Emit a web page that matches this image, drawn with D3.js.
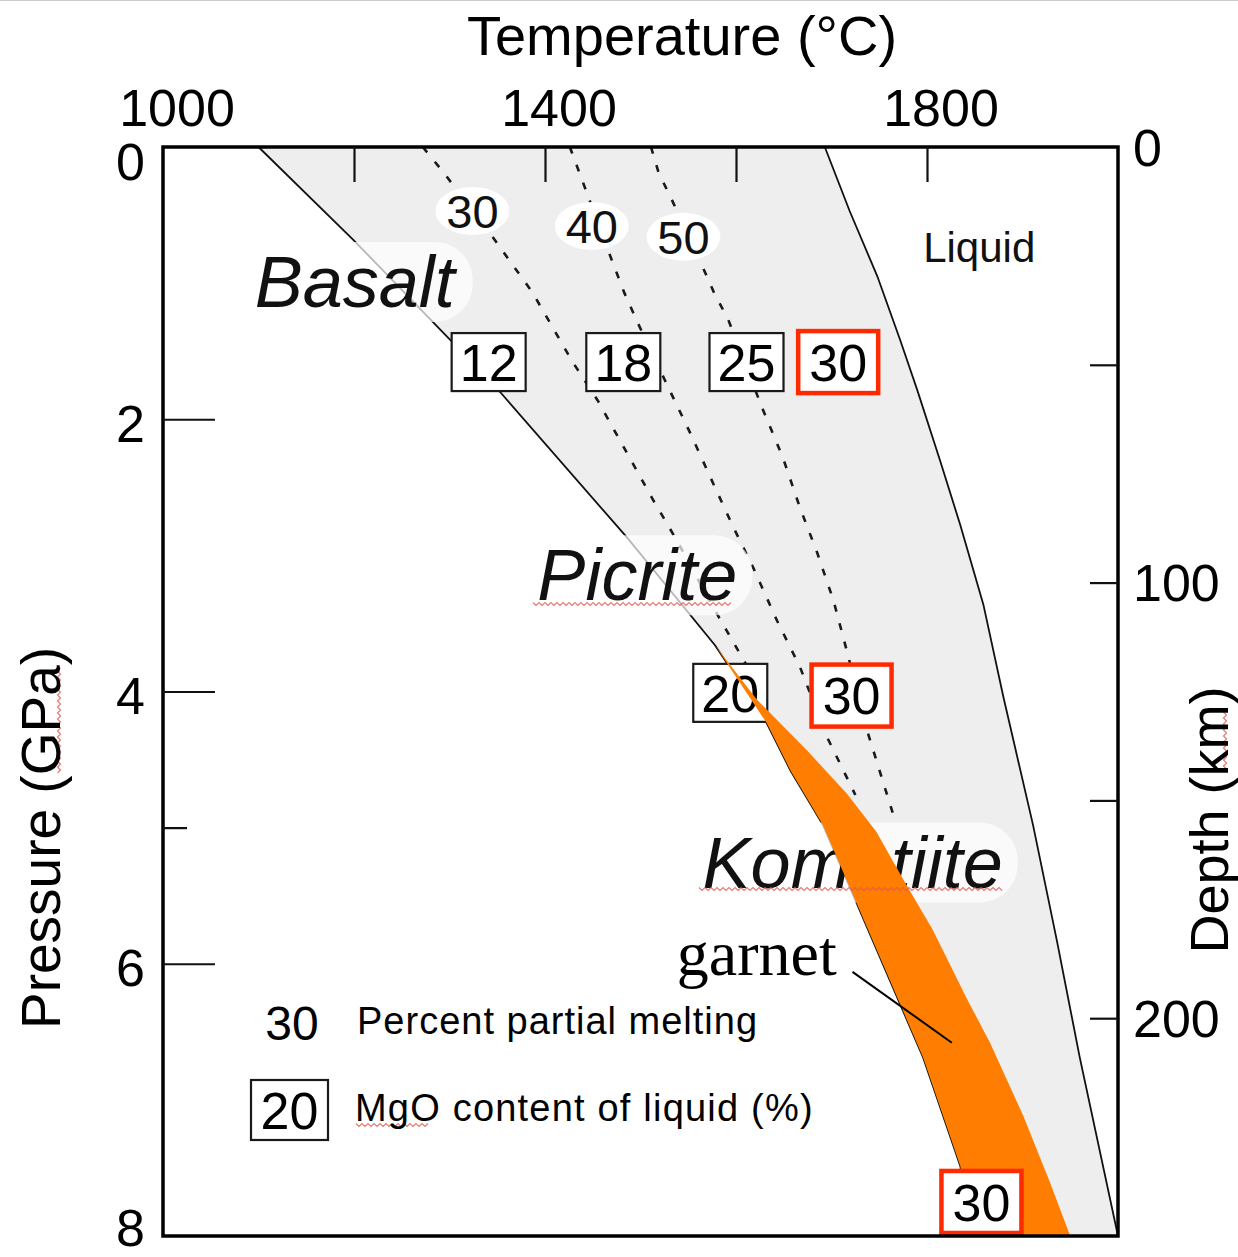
<!DOCTYPE html>
<html>
<head>
<meta charset="utf-8">
<script src="https://cdnjs.cloudflare.com/ajax/libs/d3/7.8.5/d3.min.js"></script>
<style>
  body{margin:0;background:#fff;}
  svg{display:block;font-family:"Liberation Sans",Arial,Helvetica,sans-serif;}
</style>
</head>
<body>
<div id="chart"></div>
<script>
// [temperature C, pressure GPa]
var solidus = [[1100,0],[1199,0.68],[1304,1.44],[1353,1.80],[1486,2.87],[1578,3.66],[1632,4.23],[1657,4.58],[1691,4.98],[1726,5.55],[1761,6.12],[1796,6.69],[1817,7.12],[1835,7.49],[1843,8]];
var liquidus = [[1693,0],[1719,0.47],[1748,0.95],[1772,1.42],[1790,1.79],[1814,2.31],[1835,2.78],[1859,3.36],[1880,4.04],[1911,4.98],[1936,5.83],[1960,6.69],[2000,8]];

// percent partial melting isopleths (dashed)
var melt30 = [[1272,0],[1293,0.18],[1342,0.63],[1387,1.07],[1429,1.58],[1455,1.86],[1513,2.59],[1538,2.89],[1576,3.38],[1613,3.83]];
var melt40 = [[1426,0],[1444,0.34],[1465,0.74],[1483,1.07],[1497,1.29],[1528,1.75],[1552,2.10],[1576,2.47],[1597,2.79],[1618,3.09],[1643,3.48],[1667,3.82],[1695,4.33],[1725,4.76]];
var melt50 = [[1511,0],[1519,0.19],[1533,0.39],[1565,0.88],[1577,1.07],[1592,1.27],[1627,1.91],[1649,2.28],[1667,2.65],[1685,2.98],[1702,3.33],[1716,3.70],[1737,4.28],[1764,4.89]];
var meltLevels = [30,40,50];
var meltLabelAt = [[1324,0.47],[1449,0.58],[1545,0.66]];

// garnet field edges
var garnetLow = [[1578,3.66],[1632,4.23],[1657,4.58],[1691,4.98],[1726,5.55],[1761,6.12],[1796,6.69],[1817,7.12],[1835,7.49],[1843,8]];
var garnetHigh = [[1578,3.66],[1622,4.06],[1674,4.43],[1716,4.75],[1747,5.03],[1775,5.38],[1806,5.75],[1842,6.26],[1866,6.58],[1901,7.12],[1929,7.61],[1950,8]];

// MgO content of liquid (%)
var mgoValues = [12,18,25,30,20,30,30];
var mgoAt = [[1341,1.58],[1482,1.58],[1611,1.58],[1707,1.58],[1594,4.01],[1721,4.03],[1857,7.75]];
var mgoRed = [false,false,false,true,false,true,true];

var regionNames = ["Basalt","Picrite","Komatiite"];
var regionAt = [[1096,1.175],[1392,3.33],[1565,5.44]];

var tempTicks = [1200,1400,1600,1800];
var tempLabels = [1000,1400,1800];
var pressureTicks = [2,4,6];
var pressureMinor = [5];
var pressureLabels = [0,2,4,6,8];
var depthTicks = [50,100,150,200];
var depthLabels = [0,100,200];

var legendKeys = ["30","20"];
var legendText = ["Percent partial melting","MgO content of liquid (%)"];

var W = 1238, H = 1257;
var x = d3.scaleLinear().domain([1000,2000]).range([163,1118]);
var y = d3.scaleLinear().domain([0,8]).range([147,1236]);
var depth = d3.scaleLinear().domain([0,250]).range([147,1236]);

var svg = d3.select("#chart").append("svg")
  .attr("width",W)
  .attr("height",H);

svg.append("line")
  .attr("x1",0).attr("x2",W).attr("y1",0.5).attr("y2",0.5)
  .attr("stroke","#cccccc");

var line = d3.line()
  .x(function(d){ return x(d[0]); })
  .y(function(d){ return y(d[1]); });

// grey melting field
var field = solidus.concat(liquidus.slice().reverse());
svg.append("path")
  .attr("d", line(field) + "Z")
  .attr("fill","#eeeeee");

// dashed isopleths
svg.selectAll("path.iso")
  .data([melt30,melt40,melt50])
  .enter()
  .append("path")
  .attr("class","iso")
  .attr("d",line)
  .attr("fill","none")
  .attr("stroke","#1a1a1a")
  .attr("stroke-width",2.6)
  .attr("stroke-dasharray","7,12");

// solidus and liquidus
svg.selectAll("path.bound")
  .data([solidus,liquidus])
  .enter()
  .append("path")
  .attr("class","bound")
  .attr("d",line)
  .attr("fill","none")
  .attr("stroke","#111")
  .attr("stroke-width",1.8);

// region names on faded white pills
regionNames.forEach(function(name,i){
  var g = svg.append("g");
  var bg = g.append("rect");
  var t = g.append("text")
    .attr("x",x(regionAt[i][0]))
    .attr("y",y(regionAt[i][1]))
    .style("font-size","72px")
    .style("font-style","italic")
    .style("fill","#111")
    .text(name);
  var bb = t.node().getBBox();
  bg.attr("x",bb.x-15)
    .attr("y",bb.y)
    .attr("width",bb.width+30)
    .attr("height",bb.height)
    .attr("rx",38)
    .attr("fill","#ffffff")
    .attr("opacity",0.7);
});

// percent labels
var ml = svg.selectAll("g.mlab")
  .data(meltLevels)
  .enter()
  .append("g")
  .attr("class","mlab")
  .attr("transform",function(d,i){
    return "translate(" + x(meltLabelAt[i][0]) + "," + y(meltLabelAt[i][1]) + ")";
  });
ml.append("ellipse")
  .attr("rx",37)
  .attr("ry",24)
  .attr("fill","#fff");
ml.append("text")
  .attr("text-anchor","middle")
  .attr("dy","0.36em")
  .style("font-size","47px")
  .style("fill","#111")
  .text(function(d){ return d; });

// "Liquid"
svg.append("text")
  .attr("x",x(1796))
  .attr("y",y(0.845))
  .style("font-size","42px")
  .style("fill","#111")
  .text("Liquid");

function drawBoxes(filter){
  var idx = d3.range(mgoValues.length).filter(function(i){ return mgoRed[i]==filter; });
  var b = svg.selectAll("g.box" + (filter ? "r" : "k"))
    .data(idx)
    .enter()
    .append("g")
    .attr("transform",function(i){
      return "translate(" + x(mgoAt[i][0]) + "," + y(mgoAt[i][1]) + ")";
    });
  b.append("rect")
    .attr("x",function(i){ return mgoRed[i] ? -40 : -37; })
    .attr("y",function(i){ return mgoRed[i] ? -31 : -29; })
    .attr("width",function(i){ return mgoRed[i] ? 80 : 74; })
    .attr("height",function(i){ return mgoRed[i] ? 62 : 58; })
    .attr("fill","#fff")
    .attr("stroke",function(i){ return mgoRed[i] ? "#ff2a00" : "#1a1a1a"; })
    .attr("stroke-width",function(i){ return mgoRed[i] ? 4.5 : 2.2; });
  b.append("text")
    .attr("text-anchor","middle")
    .attr("dy","0.36em")
    .style("font-size","52px")
    .style("fill","#000")
    .text(function(i){ return mgoValues[i]; });
}

drawBoxes(false);

// garnet field on top
var garnet = garnetLow.concat(garnetHigh.slice().reverse());
svg.append("path")
  .attr("d", line(garnet) + "Z")
  .attr("fill","#ff7d00");

drawBoxes(true);

// garnet label + leader
svg.append("line")
  .attr("x1",x(1722)).attr("y1",y(6.06))
  .attr("x2",x(1826)).attr("y2",y(6.58))
  .attr("stroke","#000")
  .attr("stroke-width",2);
svg.append("text")
  .attr("x",x(1538))
  .attr("y",y(6.083))
  .style("font-family","'Liberation Serif','Times New Roman',serif")
  .style("font-size","64px")
  .style("fill","#000")
  .text("garnet");

// spell-check squiggles left in the source picture
function wavy(x0,y0,len,vertical){
  var p = [];
  for(var k=0;k<=len;k+=3){
    var o = (k/3)%2==0 ? -1.5 : 1.5;
    p.push(vertical ? [x0+o,y0-k] : [x0+k,y0+o]);
  }
  return d3.line()(p);
}
var squig = [[533,604,200,false],[699,889,305,false],[356,1125,74,false],[59,773,106,true],[1225,772,60,true]];
svg.selectAll("path.sq")
  .data(squig)
  .enter()
  .append("path")
  .attr("d",function(d){ return wavy(d[0],d[1],d[2],d[3]); })
  .attr("fill","none")
  .attr("stroke","#e05a50")
  .attr("stroke-width",1.2)
  .attr("opacity",0.8);

// frame
svg.append("rect")
  .attr("x",x(1000))
  .attr("y",y(0))
  .attr("width",x(2000)-x(1000))
  .attr("height",y(8)-y(0))
  .attr("fill","none")
  .attr("stroke","#000")
  .attr("stroke-width",3.5);

// ticks (inward)
var topAx = svg.append("g")
  .attr("transform","translate(0," + y(0) + ")")
  .call(d3.axisTop(x).tickValues(tempTicks).tickSize(-35).tickFormat(""));
var leftAx = svg.append("g")
  .attr("transform","translate(" + x(1000) + ",0)")
  .call(d3.axisLeft(y).tickValues(pressureTicks).tickSize(-52).tickFormat(""));
var leftMinor = svg.append("g")
  .attr("transform","translate(" + x(1000) + ",0)")
  .call(d3.axisLeft(y).tickValues(pressureMinor).tickSize(-24).tickFormat(""));
var rightAx = svg.append("g")
  .attr("transform","translate(" + x(2000) + ",0)")
  .call(d3.axisRight(depth).tickValues(depthTicks).tickSize(-28).tickFormat(""));
[topAx,leftAx,leftMinor,rightAx].forEach(function(a){
  a.select(".domain").remove();
  a.selectAll("line").attr("stroke","#111").attr("stroke-width",2.2);
});

// tick labels
svg.selectAll("text.tl")
  .data(tempLabels)
  .enter()
  .append("text")
  .attr("class","tl")
  .attr("x",function(d){ return x(d)+14; })
  .attr("y",126)
  .attr("text-anchor","middle")
  .style("font-size","52px")
  .text(function(d){ return d; });

svg.selectAll("text.pl")
  .data(pressureLabels)
  .enter()
  .append("text")
  .attr("class","pl")
  .attr("x",145)
  .attr("y",function(d){ return y(d); })
  .attr("dy",function(d){
    if(d==0){ return "0.63em"; }
    else if(d==8){ return "0.19em"; }
    return "0.43em";
  })
  .attr("text-anchor","end")
  .style("font-size","52px")
  .text(function(d){ return d; });

svg.selectAll("text.dl")
  .data(depthLabels)
  .enter()
  .append("text")
  .attr("class","dl")
  .attr("x",1133)
  .attr("y",function(d){ return depth(d); })
  .attr("dy","0.36em")
  .style("font-size","52px")
  .text(function(d){ return d; });

// axis titles
svg.append("text")
  .attr("x",682)
  .attr("y",55)
  .attr("text-anchor","middle")
  .style("font-size","56px")
  .text("Temperature (°C)");

svg.append("text")
  .attr("transform","translate(60,838) rotate(-90)")
  .attr("text-anchor","middle")
  .style("font-size","55px")
  .text("Pressure (GPa)");

svg.append("text")
  .attr("transform","translate(1228,820) rotate(-90)")
  .attr("text-anchor","middle")
  .style("font-size","54px")
  .text("Depth (km)");

// legend
svg.append("text")
  .attr("x",292)
  .attr("y",1040)
  .attr("text-anchor","middle")
  .style("font-size","48px")
  .text(legendKeys[0]);
svg.append("text")
  .attr("x",357)
  .attr("y",1034)
  .style("font-size","38px")
  .style("letter-spacing","1px")
  .text(legendText[0]);

svg.append("rect")
  .attr("x",251)
  .attr("y",1080)
  .attr("width",77)
  .attr("height",60)
  .attr("fill","#fff")
  .attr("stroke","#1a1a1a")
  .attr("stroke-width",2.2);
svg.append("text")
  .attr("x",289.5)
  .attr("y",1110)
  .attr("dy","0.36em")
  .attr("text-anchor","middle")
  .style("font-size","52px")
  .text(legendKeys[1]);
svg.append("text")
  .attr("x",355)
  .attr("y",1121)
  .style("font-size","38px")
  .style("letter-spacing","1.2px")
  .text(legendText[1]);
</script>
</body>
</html>
